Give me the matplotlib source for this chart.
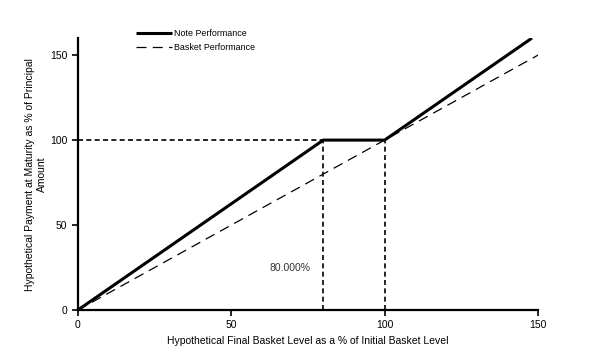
import matplotlib.pyplot as plt

plt.rcParams['font.family'] = ['Liberation Sans', 'DejaVu Sans']

# basket level (%) and payment (%)
note_x = [0, 80, 100, 148]
note_y = [0, 100, 100, 160]
basket_x = [0, 150]
basket_y = [0, 150]
barrier = 80
initial = 100
barrier_label = "80.000%"

fig = plt.figure(figsize=(6.08, 3.56), dpi=100)
ax = fig.add_axes([0.128, 0.129, 0.757, 0.764])

ax.plot(note_x, note_y, color='black', lw=2.2, label='Note Performance', solid_capstyle='butt')
ax.plot(basket_x, basket_y, color='black', lw=0.9, ls=(0, (8, 5)), label='Basket Performance')

# reference lines
ax.plot([0, barrier], [initial, initial], color='black', lw=1.2, ls=(0, (3, 2)))
ax.plot([barrier, barrier], [0, initial], color='black', lw=1.2, ls=(0, (3, 2)))
ax.plot([initial, initial], [0, initial], color='black', lw=1.2, ls=(0, (3, 2)))
ax.text(69, 25, barrier_label, fontsize=7.5, color='#333333', ha='center', va='center')

ax.set_xlim(0, 150)
ax.set_ylim(0, 160)
ax.set_xticks([0, 50, 100, 150])
ax.set_yticks([0, 50, 100, 150])
ax.tick_params(labelsize=7.5, length=4, width=1.2, direction='out')
for s in ['top', 'right']:
    ax.spines[s].set_visible(False)
for s in ['left', 'bottom']:
    ax.spines[s].set_linewidth(1.6)

ax.set_xlabel("Hypothetical Final Basket Level as a % of Initial Basket Level", fontsize=7.5)
ax.set_ylabel("Hypothetical Payment at Maturity as % of Principal\nAmount", fontsize=7.5,
              linespacing=1.25, labelpad=2)

fig.legend(loc='upper left', bbox_to_anchor=(0.218, 0.928), frameon=False, fontsize=6.4,
           handlelength=4.0, handletextpad=0.25, labelspacing=0.55, borderaxespad=0)

fig.savefig('out.png', dpi=100)
